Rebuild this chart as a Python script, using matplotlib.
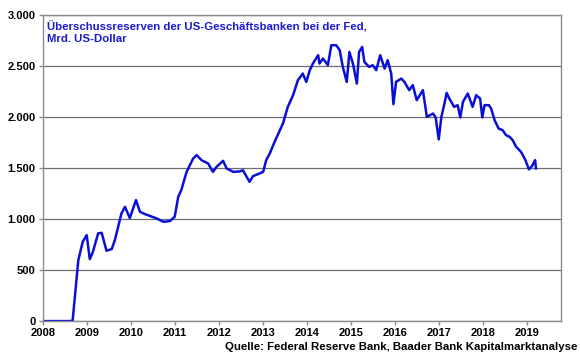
import matplotlib.pyplot as plt
from matplotlib.ticker import FuncFormatter
import numpy as np

# Excess reserves of US banks at the Fed, bn USD
years = [2008.00, 2008.30, 2008.60, 2008.68, 2008.81, 2008.91, 2009.00, 2009.07, 2009.14,
         2009.26, 2009.34, 2009.45, 2009.57, 2009.64, 2009.79, 2009.87, 2009.98, 2010.12,
         2010.21, 2010.32, 2010.59, 2010.74, 2010.89, 2011.00, 2011.08, 2011.15, 2011.27,
         2011.42, 2011.50, 2011.61, 2011.76, 2011.87, 2011.95, 2012.10, 2012.18, 2012.33,
         2012.48, 2012.55, 2012.70, 2012.78, 2012.93, 2013.01, 2013.08, 2013.16, 2013.27,
         2013.46, 2013.57, 2013.69, 2013.80, 2013.91, 2013.99, 2014.07, 2014.14, 2014.26,
         2014.29, 2014.37, 2014.48, 2014.56, 2014.67, 2014.75, 2014.82, 2014.91, 2014.97,
         2015.05, 2015.14, 2015.19, 2015.26, 2015.31, 2015.42, 2015.50, 2015.58, 2015.67,
         2015.77, 2015.84, 2015.92, 2015.97, 2016.03, 2016.15, 2016.22, 2016.33, 2016.41,
         2016.50, 2016.64, 2016.73, 2016.87, 2016.93, 2017.00, 2017.06, 2017.13, 2017.18,
         2017.24, 2017.35, 2017.43, 2017.49, 2017.55, 2017.66, 2017.77, 2017.85, 2017.94,
         2017.99, 2018.04, 2018.14, 2018.19, 2018.27, 2018.36, 2018.45, 2018.53, 2018.61,
         2018.68, 2018.76, 2018.87, 2018.97, 2019.05, 2019.12, 2019.19, 2019.21]
reserves = [2, 2, 2, 5, 600, 780, 845, 610, 680,
            862, 868, 692, 709, 797, 1058, 1123, 1012, 1189,
            1074, 1052, 1009, 976, 983, 1025, 1221, 1287, 1466,
            1597, 1630, 1580, 1548, 1466, 1515, 1574, 1499, 1466,
            1470, 1482, 1368, 1424, 1450, 1466, 1581, 1646, 1760,
            1940, 2103, 2218, 2365, 2430, 2348, 2463, 2528, 2610,
            2528, 2577, 2512, 2708, 2708, 2659, 2495, 2348, 2642,
            2528, 2332, 2642, 2691, 2544, 2495, 2512, 2463, 2610,
            2479, 2561, 2430, 2130, 2348, 2381, 2348, 2267, 2316,
            2169, 2267, 2005, 2038, 2000, 1784, 2005, 2136, 2240,
            2185, 2103, 2120, 2000, 2152, 2234, 2103, 2218, 2185,
            2000, 2120, 2120, 2087, 1973, 1891, 1875, 1826, 1809,
            1777, 1711, 1662, 1581, 1490, 1522, 1581, 1500]
year_ticks = list(range(2008, 2020))
value_ticks = [0, 500, 1000, 1500, 2000, 2500, 3000]

plt.rcParams['font.family'] = ['Liberation Sans', 'DejaVu Sans']

fig = plt.figure(figsize=(5.8, 3.59), dpi=100)
ax = fig.add_axes([0.0736, 0.105, 0.893, 0.852])

ax.plot(years, reserves, color='#0a0fd8', linewidth=1.8)

ax.set_xlim(2008, 2019.77)
ax.set_ylim(0, 3000)
ax.set_xticks(year_ticks)
ax.set_yticks(value_ticks)
ax.yaxis.set_major_formatter(FuncFormatter(lambda v, p: f'{int(v):,}'.replace(',', '.')))
ax.grid(axis='y', color='#6e6e6e', linewidth=0.9)
ax.set_axisbelow(True)
for s in ax.spines.values():
    s.set_color('#8c8c8c')
    s.set_linewidth(1.0)
ax.tick_params(axis='both', direction='out', length=3, color='#8c8c8c', width=1,
               labelsize=8, pad=2)
for lab in ax.get_xticklabels() + ax.get_yticklabels():
    lab.set_fontweight('bold')

ax.text(0.009, 0.982, 'Überschussreserven der US-Geschäftsbanken bei der Fed,\nMrd. US-Dollar',
        transform=ax.transAxes, ha='left', va='top', fontsize=8.2, fontweight='bold',
        color='#1a1ad2', linespacing=1.2)
fig.text(0.996, 0.02, 'Quelle: Federal Reserve Bank, Baader Bank Kapitalmarktanalyse',
         ha='right', va='bottom', fontsize=8.2, fontweight='bold', color='black')

fig.savefig('out.png', dpi=100)
